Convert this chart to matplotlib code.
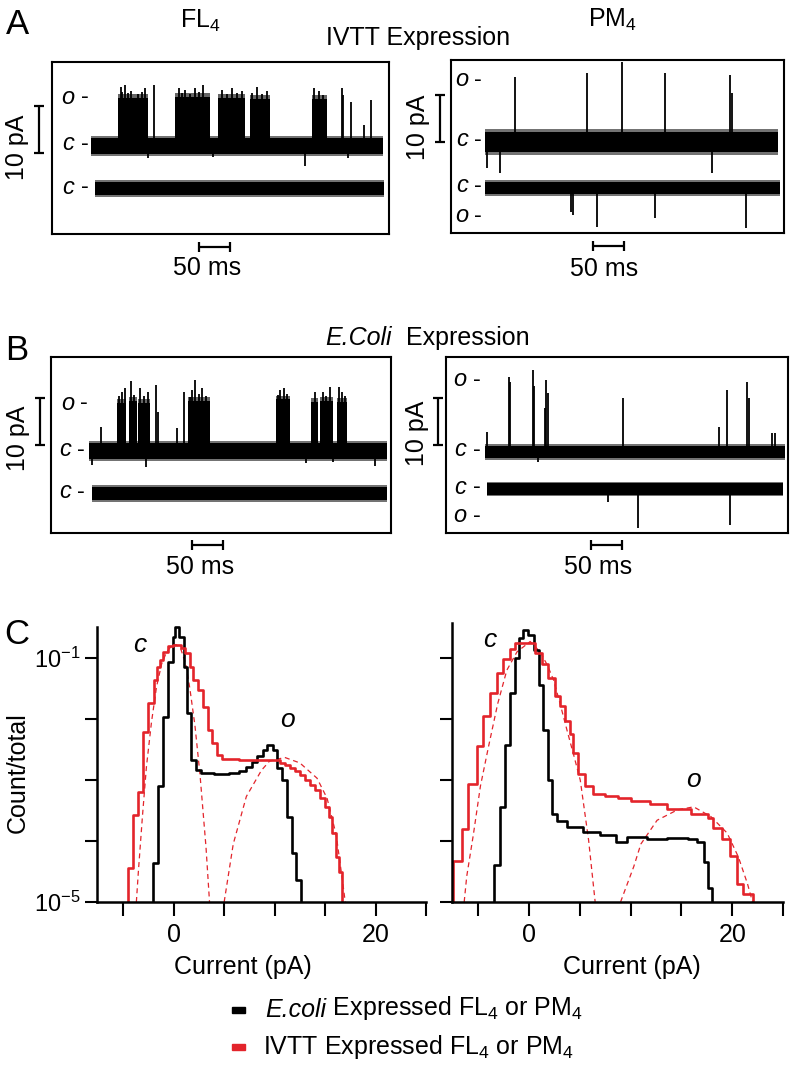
import matplotlib
matplotlib.use('Agg')
import matplotlib.pyplot as plt
from matplotlib.ticker import NullLocator

plt.rcParams['font.family'] = ['Liberation Sans', 'DejaVu Sans']
plt.rcParams['mathtext.fontset'] = 'custom'
plt.rcParams['mathtext.rm'] = 'Liberation Sans'
plt.rcParams['mathtext.it'] = 'Liberation Sans:italic'
plt.rcParams['mathtext.bf'] = 'Liberation Sans:bold'

# ---------------- single channel traces (time in ms, current in pA) ----------
# each trace: recorded span, baseline noise half-width, open bursts (t0, t1, top),
# brief openings (t, peak) and downward events (t, depth)
fl4_ivtt_span = (63, 534)
fl4_ivtt_noise = 1.7
fl4_ivtt_bursts = [(107, 155, 10.2), (199, 255, 10.4), (268, 311, 10.2),
                   (319, 352, 10.0), (419, 443, 10.0)]
fl4_ivtt_spikes = [(111, 12.6), (113, 11.4), (117, 13.0), (122, 11.2), (128, 11.8), (138, 11.0),
                   (145, 11.5), (150, 12.3), (165, 13.0), (205, 12.3), (210, 11.2), (215, 12.0),
                   (222, 11.0), (231, 12.3), (237, 11.4), (244, 13.0), (274, 11.9), (283, 11.0),
                   (290, 12.3), (298, 11.2), (306, 11.6), (323, 11.3), (330, 12.6), (338, 11.0),
                   (346, 11.6), (423, 12.3), (430, 11.6), (437, 10.8), (467, 12.3), (470, 10.9),
                   (483, 9.4), (504, 4.5), (515, 9.8)]
fl4_ivtt_dips = [(155, -2.6), (260, -2.3), (408, -4.2), (478, -2.5)]
fl4_ivtt_ctrl_span = (69, 535)
fl4_ivtt_ctrl_noise = 1.4

pm4_ivtt_span = (55, 527)
pm4_ivtt_noise = 2.2
pm4_ivtt_spikes = [(103, 13.8), (219, 14.7), (276, 17.0), (345, 14.7), (450, 14.3), (453, 10.4)]
pm4_ivtt_dips = [(58, -5.5), (79, -6.6), (421, -6.6)]
pm4_ivtt_ctrl_span = (55, 530)
pm4_ivtt_ctrl_noise = 1.3
pm4_ivtt_ctrl_dips = [(194, -5.0), (197, -5.7), (235, -8.3), (329, -6.4), (476, -8.5)]

fl4_ecoli_span = (61, 542)
fl4_ecoli_noise = 1.7
fl4_ecoli_bursts = [(106, 121, 10.2), (125, 138, 10.6), (141, 160, 10.2), (221, 256, 10.6),
                    (363, 385, 11.0), (420, 431, 10.4), (434, 455, 10.6), (461, 477, 10.4)]
fl4_ecoli_spikes = [(80, 5.2), (110, 11.8), (114, 12.6), (120, 13.3), (129, 14.8), (134, 12.0),
                    (144, 13.3), (150, 11.6), (156, 12.6), (169, 14.0), (172, 8.4), (203, 4.8),
                    (215, 12.6), (224, 11.4), (227, 12.9), (233, 15.1), (238, 12.2), (243, 13.3),
                    (250, 11.8), (366, 12.0), (369, 12.9), (375, 13.3), (380, 12.2), (426, 12.6),
                    (438, 12.6), (444, 11.8), (450, 13.7), (464, 13.7), (469, 12.6), (474, 11.6)]
fl4_ecoli_dips = [(66, -3.0), (154, -3.3), (412, -2.6), (455, -2.4), (522, -3.1)]
fl4_ecoli_ctrl_span = (66, 542)
fl4_ecoli_ctrl_noise = 1.4

pm4_ecoli_span = (63, 547)
pm4_ecoli_noise = 1.3
pm4_ecoli_spikes = [(66, 4.3), (101, 16.0), (103, 15.0), (141, 17.4), (142, 14.0),
                    (160, 9.3), (162, 15.3), (165, 12.5), (286, 11.4), (440, 5.4),
                    (453, 13.2), (485, 14.8), (488, 11.4), (525, 4.0), (531, 4.0)]
pm4_ecoli_dips = [(149, -2.1)]
pm4_ecoli_ctrl_span = (66, 544)
pm4_ecoli_ctrl_noise = 1.2
pm4_ecoli_ctrl_dips = [(262, -2.8), (310, -8.3), (458, -7.7)]

# ---------------- all-point histograms (current pA, log10 count/total) --------
# step edges and the level of each step
fl4_ecoli_edges = [-2.1, -1.55, -1.05, -0.6, -0.1, 0.1, 0.5, 1.0, 1.3, 1.7, 2.2, 2.7, 4.0,
                   5.5, 6.5, 7.2, 7.8, 8.3, 8.8, 9.2, 9.8, 10.2, 10.7, 11.2, 11.7, 12.1, 12.6]
fl4_ecoli_logp = [-4.36, -3.1, -1.97, -1.07, -0.66, -0.49, -0.66, -1.15, -1.9, -2.67, -2.84,
                  -2.88, -2.9, -2.88, -2.85, -2.78, -2.7, -2.6, -2.5, -2.43, -2.5, -2.8, -3.0,
                  -3.6, -4.2, -4.64]
fl4_ivtt_edges = [-4.5, -4.0, -3.5, -3.0, -2.5, -2.0, -1.7, -1.4, -1.05, -0.55, -0.05, 0.75,
                  1.1, 1.6, 1.9, 2.4, 2.9, 3.4, 3.75, 4.25, 4.75, 6.5, 8.5, 10.5, 11.0, 11.5,
                  12.0, 12.5, 13.0, 13.5, 14.0, 14.5, 15.0, 15.4, 15.7, 16.1, 16.4, 16.7]
fl4_ivtt_logp = [-4.44, -3.57, -3.19, -2.21, -1.74, -1.36, -1.14, -1.03, -0.9, -0.81, -0.78,
                 -0.84, -0.92, -1.15, -1.36, -1.52, -1.8, -2.18, -2.39, -2.59, -2.66, -2.67,
                 -2.68, -2.72, -2.76, -2.8, -2.86, -2.92, -3.0, -3.08, -3.16, -3.3, -3.45,
                 -3.6, -3.87, -4.26, -4.5]
fl4_closed_fit_x = [-3.7, -3.5, -3.1, -2.7, -2.2, -1.7, -1.2, -0.7, -0.2, 0.25, 0.7, 1.2,
                    1.6, 2.1, 2.6, 3.2, 3.55]
fl4_closed_fit_y = [-5.0, -4.5, -3.6, -2.78, -2.05, -1.47, -1.1, -0.9, -0.8, -0.78, -0.85,
                    -1.1, -1.5, -2.1, -2.9, -4.1, -5.0]
fl4_open_fit_x = [5.0, 5.9, 7.2, 8.7, 9.5, 11.0, 12.5, 14.2, 15.2, 16.1, 16.6, 17.0]
fl4_open_fit_y = [-5.0, -4.05, -3.27, -2.84, -2.69, -2.63, -2.72, -2.97, -3.3, -3.9, -4.5, -5.0]

pm4_ecoli_edges = [-3.45, -2.86, -2.37, -1.87, -1.38, -1.05, -0.56, -0.07, 0.43, 0.92, 1.35,
                   1.84, 2.24, 2.73, 3.7, 5.3, 7.0, 8.6, 9.6, 11.6, 13.6, 15.6, 16.5, 17.2,
                   17.6, 18.0]
pm4_ecoli_logp = [-4.39, -3.44, -2.43, -1.58, -1.0, -0.68, -0.54, -0.62, -0.87, -1.44, -2.18,
                  -3.0, -3.55, -3.68, -3.77, -3.85, -3.9, -4.01, -3.93, -3.97, -3.95, -3.96,
                  -4.02, -4.34, -4.77]
pm4_ivtt_edges = [-7.5, -6.6, -6.0, -5.1, -4.5, -3.85, -3.16, -2.56, -1.87, -1.38, 0.6, 1.28,
                  1.87, 2.56, 3.06, 3.55, 4.04, 4.34, 4.83, 5.52, 6.3, 7.5, 8.7, 10.0, 11.9,
                  13.6, 15.9, 17.6, 18.1, 19.0, 19.8, 20.5, 21.1, 22.0]
pm4_ivtt_logp = [-4.33, -3.8, -3.07, -2.44, -1.95, -1.57, -1.25, -1.02, -0.85, -0.76, -0.92,
                 -1.1, -1.33, -1.62, -1.79, -2.03, -2.25, -2.56, -2.9, -3.1, -3.23, -3.27,
                 -3.3, -3.35, -3.39, -3.48, -3.56, -3.62, -3.79, -3.97, -4.25, -4.7, -4.87]
pm4_closed_fit_x = [-6.4, -6.15, -5.5, -4.8, -4.0, -3.1, -2.2, -1.2, 0.1, 1.08, 1.8, 2.4,
                    3.0, 3.72, 4.4, 5.03, 5.85, 6.5]
pm4_closed_fit_y = [-5.0, -4.58, -3.9, -3.1, -2.45, -1.75, -1.2, -0.9, -0.73, -0.9, -1.12,
                    -1.36, -1.72, -2.18, -2.6, -3.0, -3.98, -5.0]
pm4_open_fit_x = [9.0, 10.3, 11.0, 12.6, 14.6, 16.2, 17.9, 19.5, 20.6, 21.5, 22.0]
pm4_open_fit_y = [-5.0, -4.42, -4.05, -3.66, -3.49, -3.44, -3.6, -3.87, -4.26, -4.7, -5.0]

# ---------------- layout ----------------
W, H = 796, 1065
MS_PER_PX = 50 / 31
PA_PER_PX = 10 / 47
RED = '#e3242b'

fig = plt.figure(figsize=(W / 100, H / 100), dpi=100)


def px_axes(l, t, r, b):
    return fig.add_axes([l / W, 1 - b / H, (r - l) / W, (b - t) / H])


def ftext(x, y, s, **kw):
    kw.setdefault('ha', 'center')
    kw.setdefault('va', 'center')
    kw.setdefault('fontsize', 18)
    return fig.text(x / W, 1 - y / H, s, **kw)


def draw_trace(ax, level, span, noise, bursts=(), spikes=(), dips=()):
    # soft edge for the occasional noise excursions, then the dense core
    ax.fill_between(list(span), level - noise * 1.3, level + noise * 1.3, color='0.45', lw=0)
    ax.fill_between(list(span), level - noise, level + noise, color='k', lw=0)
    for b0, b1, top in bursts:
        ax.fill_between([b0, b1], level - noise * 0.5, level + top + 0.8, color='0.4', lw=0)
        ax.fill_between([b0, b1], level - noise * 0.5, level + top, color='k', lw=0)
    for t, p in spikes:
        ax.vlines(t, level, level + p, color='k', lw=1.3)
    for t, d in dips:
        ax.vlines(t, level + d, level, color='k', lw=1.3)


def trace_panel(rect, y0, vbar, hbar):
    l, t, r, b = rect
    ax = px_axes(l, t, r, b)
    ax.set_xlim(0, (r - l) * MS_PER_PX)
    ax.set_ylim((y0 - b) * PA_PER_PX, (y0 - t) * PA_PER_PX)
    ax.set_xticks([])
    ax.set_yticks([])
    for s in ax.spines.values():
        s.set_linewidth(1.5)
    # 10 pA scale bar
    vx = (vbar[0] - l) * MS_PER_PX
    vy = (y0 - vbar[1]) * PA_PER_PX
    cw = 5 * MS_PER_PX
    kw = dict(color='k', lw=1.6, clip_on=False, solid_capstyle='butt')
    ax.plot([vx, vx], [vy, vy + 10], **kw)
    ax.plot([vx - cw, vx + cw], [vy, vy], **kw)
    ax.plot([vx - cw, vx + cw], [vy + 10, vy + 10], **kw)
    # 50 ms scale bar
    hx = (hbar[0] - l) * MS_PER_PX
    hy = (y0 - hbar[1]) * PA_PER_PX
    ch = 5 * PA_PER_PX
    ax.plot([hx, hx + 50], [hy, hy], **kw)
    ax.plot([hx, hx], [hy - ch, hy + ch], **kw)
    ax.plot([hx + 50, hx + 50], [hy - ch, hy + ch], **kw)
    return ax


# panel A
ax = trace_panel((52, 62, 389, 234), 146, (39, 153), (199, 247))
draw_trace(ax, 0, fl4_ivtt_span, fl4_ivtt_noise, fl4_ivtt_bursts, fl4_ivtt_spikes, fl4_ivtt_dips)
draw_trace(ax, -9.1, fl4_ivtt_ctrl_span, fl4_ivtt_ctrl_noise)

ax = trace_panel((451, 60, 784, 233), 142, (440, 142), (593, 246))
draw_trace(ax, 0, pm4_ivtt_span, pm4_ivtt_noise, (), pm4_ivtt_spikes, pm4_ivtt_dips)
draw_trace(ax, -9.8, pm4_ivtt_ctrl_span, pm4_ivtt_ctrl_noise, (), (), pm4_ivtt_ctrl_dips)

# panel B
ax = trace_panel((51, 357, 391, 533), 451, (40, 445), (192, 545))
draw_trace(ax, 0, fl4_ecoli_span, fl4_ecoli_noise, fl4_ecoli_bursts, fl4_ecoli_spikes, fl4_ecoli_dips)
draw_trace(ax, -9.1, fl4_ecoli_ctrl_span, fl4_ecoli_ctrl_noise)

ax = trace_panel((446, 357, 788, 533), 452, (438, 445), (591, 545))
draw_trace(ax, 0, pm4_ecoli_span, pm4_ecoli_noise, (), pm4_ecoli_spikes, pm4_ecoli_dips)
draw_trace(ax, -7.9, pm4_ecoli_ctrl_span, pm4_ecoli_ctrl_noise, (), (), pm4_ecoli_ctrl_dips)

# trace texts
ftext(17, 25, 'A', fontsize=25)
ftext(200, 21, r'FL$_4$')
ftext(612, 20, r'PM$_4$')
ftext(418, 38, 'IVTT Expression')
ftext(17, 350, 'B', fontsize=25)
t = ftext(325, 338, 'E.Coli', ha='left', style='italic')
ax.annotate('  Expression', xy=(1, 0), xycoords=t, ha='left', va='bottom', fontsize=18,
            annotation_clip=False)
for x, y in [(17, 147), (418, 127), (18, 438), (417, 433)]:
    ftext(x, y, '10 pA', rotation=90)
for x, y in [(207, 268), (604, 269), (200, 567), (598, 567)]:
    ftext(x, y, '50 ms')
state_labels = [(68, 85, 99, 'o'), (68, 85, 146, 'c'), (68, 85, 189, 'c'),
                (462, 478, 82, 'o'), (462, 478, 142, 'c'), (462, 478, 188, 'c'), (462, 478, 218, 'o'),
                (68, 84, 405, 'o'), (65, 81, 452, 'c'), (65, 81, 494, 'c'),
                (460, 477, 382, 'o'), (460, 477, 452, 'c'), (460, 477, 489, 'c'), (460, 477, 518, 'o')]
for xl, xd, y, s in state_labels:
    ftext(xl, y - 2, s, fontsize=17, style='italic')
    ftext(xd, y - 2, '-', fontsize=17)


# panel C histograms
def hist_panel(rect, top_px, labels):
    l, t, r, b = rect
    ax = px_axes(l, t, r, b)
    ax.set_yscale('log')
    ax.set_xlim(-7.6, 25)
    ax.set_ylim(1e-5, 10 ** (-1 + (658 - t) / 61))
    for s in ['top', 'right']:
        ax.spines[s].set_visible(False)
    ax.spines['left'].set_linewidth(1.8)
    ax.spines['bottom'].set_linewidth(1.8)
    ax.spines['left'].set_bounds(1e-5, 10 ** (-1 + (658 - top_px) / 61))
    ax.spines['bottom'].set_bounds(-7.6, 25)
    ax.set_xticks([-5, 0, 5, 10, 15, 20, 25])
    ax.set_xticklabels(['', '0', '', '', '', '20', ''])
    ax.set_yticks([1e-1, 1e-2, 1e-3, 1e-4, 1e-5])
    ax.yaxis.set_minor_locator(NullLocator())
    ax.set_yticklabels([r'10$^{-1}$', '', '', '', r'10$^{-5}$'] if labels else [''] * 5)
    ax.tick_params(axis='x', direction='out', length=10, width=1.5, labelsize=18, pad=5)
    ax.tick_params(axis='y', direction='out', length=8.5, width=1.5, labelsize=17, pad=3)
    return ax


def draw_hist(ax, edges, logp, color):
    xs = [edges[0]] + list(edges)
    ys = [1e-6] + [10 ** v for v in logp] + [1e-6]
    ax.step(xs, ys, where='post', color=color, lw=1.9)


def draw_fit(ax, x, y):
    ax.plot(x, [10 ** v for v in y], color=RED, lw=0.9, ls=(0, (4, 3)))


ax = hist_panel((97, 623, 426, 902), 627, True)
draw_fit(ax, fl4_closed_fit_x, fl4_closed_fit_y)
draw_fit(ax, fl4_open_fit_x, fl4_open_fit_y)
draw_hist(ax, fl4_ecoli_edges, fl4_ecoli_logp, 'k')
draw_hist(ax, fl4_ivtt_edges, fl4_ivtt_logp, RED)

ax = hist_panel((452, 623, 783, 902), 623, False)
draw_fit(ax, pm4_closed_fit_x, pm4_closed_fit_y)
draw_fit(ax, pm4_open_fit_x, pm4_open_fit_y)
draw_hist(ax, pm4_ecoli_edges, pm4_ecoli_logp, 'k')
draw_hist(ax, pm4_ivtt_edges, pm4_ivtt_logp, RED)

ftext(17, 634, 'C', fontsize=25)
ftext(140, 645, 'c', fontsize=19, style='italic')
ftext(287, 720, 'o', fontsize=19, style='italic')
ftext(490, 640, 'c', fontsize=19, style='italic')
ftext(693, 780, 'o', fontsize=19, style='italic')
ftext(18, 773, 'Count/total', rotation=90)
ftext(243, 967, 'Current (pA)')
ftext(632, 967, 'Current (pA)')

# legend
fig.patches.append(plt.Rectangle((232 / W, 1 - 1013 / H), 13 / W, 6 / H, color='k',
                                 transform=fig.transFigure, figure=fig))
fig.patches.append(plt.Rectangle((232 / W, 1 - 1050 / H), 13 / W, 6 / H, color=RED,
                                 transform=fig.transFigure, figure=fig))
t = ftext(265, 1010, 'E.coli', ha='left', style='italic')
ax.annotate(r' Expressed FL$_4$ or PM$_4$', xy=(1, 0), xycoords=t, ha='left', va='bottom',
            fontsize=18, annotation_clip=False)
ftext(263, 1047, r'IVTT Expressed FL$_4$ or PM$_4$', ha='left')

fig.savefig('out.png', dpi=100)
